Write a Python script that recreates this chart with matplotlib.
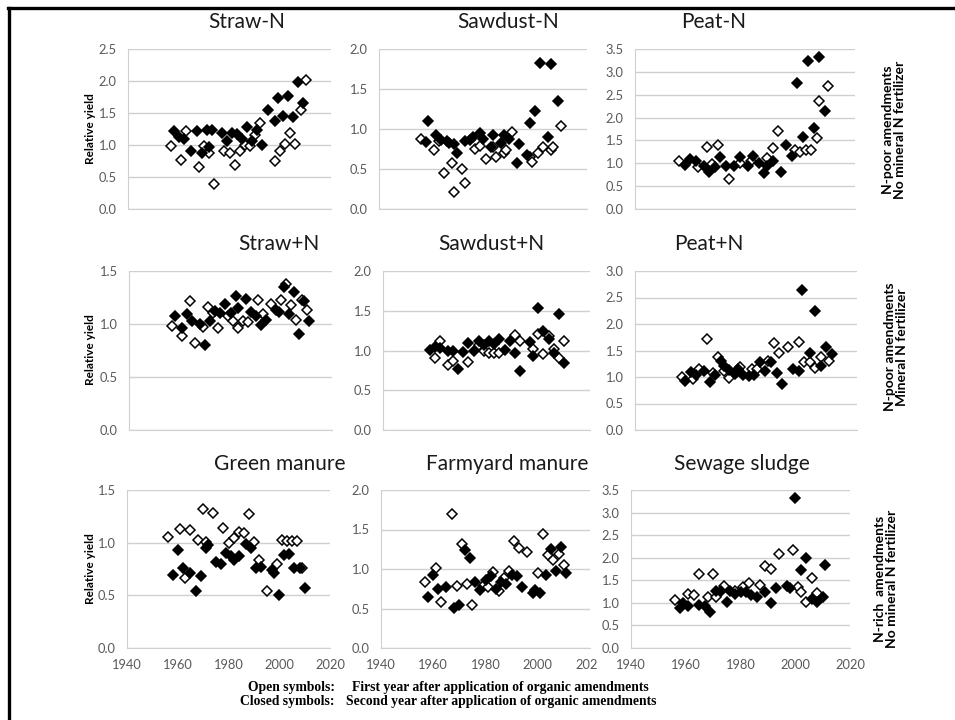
import matplotlib
matplotlib.use("Agg")
import matplotlib.pyplot as plt
import numpy as np
from matplotlib.lines import Line2D
from matplotlib.transforms import Bbox, TransformedBbox

# open = first year after application, closed = second year
straw_n_open_yr = [1957, 1961, 1963, 1968, 1970, 1972, 1974, 1978, 1980, 1982, 1984, 1986, 1988, 1990, 1992, 1998, 2000, 2002, 2004, 2006, 2008, 2010]
straw_n_open_ry = [0.99, 0.76, 1.22, 0.65, 0.99, 0.88, 0.39, 0.91, 0.88, 0.69, 0.90, 1.00, 0.99, 1.16, 1.34, 0.75, 0.91, 1.01, 1.18, 1.01, 1.54, 2.01]
straw_n_closed_yr = [1958, 1960, 1962, 1965, 1967, 1969, 1971, 1972, 1973, 1977, 1979, 1981, 1983, 1985, 1987, 1989, 1991, 1993, 1995, 1998, 1999, 2001, 2003, 2005, 2007, 2009]
straw_n_closed_ry = [1.22, 1.12, 1.10, 0.90, 1.22, 0.88, 1.23, 0.97, 1.23, 1.19, 1.07, 1.19, 1.17, 1.10, 1.28, 1.07, 1.24, 1.00, 1.55, 1.37, 1.73, 1.45, 1.77, 1.43, 1.99, 1.66]

sawdust_n_open_yr = [1956, 1961, 1963, 1965, 1968, 1969, 1972, 1973, 1977, 1979, 1981, 1984, 1985, 1988, 1989, 1991, 1998, 1999, 2001, 2003, 2006, 2007, 2010]
sawdust_n_open_ry = [0.88, 0.74, 0.85, 0.45, 0.58, 0.21, 0.50, 0.32, 0.75, 0.79, 0.62, 0.77, 0.65, 0.70, 0.74, 0.96, 0.65, 0.59, 0.70, 0.78, 0.74, 0.77, 1.04]
sawdust_n_closed_yr = [1958, 1959, 1962, 1964, 1966, 1967, 1969, 1970, 1973, 1975, 1976, 1979, 1980, 1983, 1984, 1987, 1988, 1990, 1993, 1994, 1997, 1998, 2000, 2002, 2005, 2006, 2009]
sawdust_n_closed_ry = [0.84, 1.10, 0.92, 0.86, 0.85, 0.83, 0.81, 0.70, 0.85, 0.86, 0.90, 0.95, 0.87, 0.78, 0.92, 0.83, 0.92, 0.88, 0.58, 0.81, 0.67, 1.08, 1.23, 1.83, 0.90, 1.81, 1.35]

peat_n_open_yr = [1956, 1963, 1966, 1968, 1970, 1974, 1978, 1982, 1988, 1990, 1992, 1998, 2000, 2002, 2004, 2006, 2007, 2010]
peat_n_open_ry = [1.06, 0.91, 1.35, 0.98, 1.41, 0.66, 1.01, 1.04, 1.12, 1.33, 1.71, 1.29, 1.24, 1.29, 1.29, 1.55, 2.36, 2.68]
peat_n_closed_yr = [1958, 1960, 1962, 1965, 1967, 1969, 1971, 1973, 1976, 1978, 1981, 1983, 1985, 1987, 1988, 1990, 1993, 1995, 1997, 1999, 2001, 2003, 2005, 2007, 2009]
peat_n_closed_ry = [0.97, 1.09, 1.06, 0.95, 0.82, 0.91, 1.13, 0.95, 0.95, 1.13, 0.95, 1.15, 1.00, 0.78, 0.93, 1.06, 0.80, 1.41, 1.17, 2.76, 1.58, 3.23, 1.77, 3.32, 2.14]

straw_p_open_yr = [1957, 1961, 1964, 1966, 1969, 1971, 1973, 1975, 1979, 1981, 1983, 1985, 1987, 1991, 1993, 1996, 2000, 2002, 2004, 2006, 2008, 2010]
straw_p_open_ry = [0.98, 0.89, 1.22, 0.82, 0.97, 1.16, 1.10, 0.96, 1.08, 1.03, 0.96, 1.03, 1.02, 1.23, 1.09, 1.19, 1.23, 1.38, 1.18, 1.04, 1.23, 1.13]
straw_p_closed_yr = [1958, 1961, 1963, 1965, 1968, 1970, 1972, 1974, 1976, 1978, 1980, 1982, 1983, 1986, 1988, 1990, 1992, 1994, 1998, 1999, 2001, 2003, 2005, 2007, 2009, 2011]
straw_p_closed_ry = [1.08, 0.96, 1.09, 1.03, 1.00, 0.80, 1.03, 1.12, 1.10, 1.19, 1.10, 1.26, 1.15, 1.24, 1.11, 1.08, 0.99, 1.04, 1.13, 1.11, 1.35, 1.09, 1.30, 0.91, 1.22, 1.03]

sawdust_p_open_yr = [1960, 1962, 1965, 1967, 1973, 1977, 1979, 1981, 1983, 1985, 1991, 1993, 1998, 2000, 2002, 2004, 2006, 2008, 2010]
sawdust_p_open_ry = [0.91, 1.12, 0.82, 0.87, 0.85, 1.07, 1.00, 0.97, 0.97, 0.97, 1.20, 1.12, 1.02, 1.21, 0.95, 1.18, 1.02, 0.91, 1.12]
sawdust_p_closed_yr = [1958, 1960, 1962, 1965, 1967, 1969, 1971, 1973, 1975, 1977, 1979, 1981, 1983, 1985, 1987, 1989, 1991, 1993, 1997, 1998, 2000, 2002, 2004, 2006, 2008, 2010]
sawdust_p_closed_ry = [1.01, 1.04, 1.03, 1.00, 1.00, 0.77, 0.98, 1.09, 1.00, 1.12, 1.07, 1.12, 1.08, 1.15, 1.01, 1.12, 0.97, 0.74, 1.11, 0.93, 1.53, 1.24, 1.15, 0.97, 1.46, 0.84]

peat_p_open_yr = [1957, 1961, 1963, 1966, 1968, 1970, 1972, 1974, 1978, 1982, 1984, 1988, 1990, 1992, 1995, 1999, 2001, 2003, 2005, 2007, 2010]
peat_p_open_ry = [1.00, 0.97, 1.16, 1.71, 1.07, 1.37, 1.11, 0.99, 1.18, 1.16, 1.16, 1.31, 1.64, 1.45, 1.56, 1.66, 1.28, 1.28, 1.17, 1.37, 1.31]
peat_p_closed_yr = [1958, 1960, 1962, 1965, 1967, 1969, 1971, 1972, 1974, 1976, 1977, 1979, 1981, 1983, 1985, 1987, 1989, 1991, 1993, 1997, 1999, 2000, 2003, 2005, 2007, 2009, 2011]
peat_p_closed_ry = [0.93, 1.09, 1.04, 1.11, 0.90, 1.04, 1.30, 1.20, 1.14, 1.05, 1.15, 1.04, 1.01, 1.04, 1.28, 1.11, 1.28, 1.07, 0.87, 1.16, 1.12, 2.65, 1.45, 2.24, 1.21, 1.56, 1.43]

green_open_yr = [1956, 1961, 1963, 1965, 1968, 1970, 1971, 1974, 1978, 1980, 1982, 1984, 1986, 1988, 1990, 1992, 1995, 1999, 2001, 2003, 2005, 2007, 2009]
green_open_ry = [1.05, 1.13, 0.66, 1.12, 1.03, 1.32, 1.01, 1.28, 1.14, 1.00, 1.04, 1.10, 1.09, 1.27, 1.01, 0.84, 0.54, 0.80, 1.03, 1.02, 1.02, 1.02, 0.76]
green_closed_yr = [1958, 1960, 1962, 1965, 1967, 1969, 1971, 1972, 1975, 1977, 1979, 1981, 1982, 1984, 1987, 1989, 1991, 1993, 1997, 1998, 2000, 2002, 2004, 2006, 2008, 2010]
green_closed_ry = [0.69, 0.93, 0.76, 0.71, 0.54, 0.68, 0.95, 0.98, 0.82, 0.80, 0.90, 0.87, 0.84, 0.87, 0.99, 0.95, 0.76, 0.77, 0.74, 0.71, 0.50, 0.88, 0.89, 0.76, 0.76, 0.57]

farm_open_yr = [1957, 1961, 1963, 1967, 1969, 1971, 1973, 1975, 1979, 1981, 1983, 1985, 1987, 1989, 1991, 1993, 1996, 2000, 2002, 2004, 2006, 2008, 2010]
farm_open_ry = [0.84, 1.01, 0.58, 1.70, 0.79, 1.32, 0.81, 0.55, 0.79, 0.77, 0.96, 0.72, 0.88, 0.97, 1.35, 1.26, 1.21, 0.95, 1.44, 1.18, 1.11, 1.19, 1.05]
farm_closed_yr = [1958, 1960, 1962, 1965, 1968, 1970, 1972, 1974, 1976, 1978, 1980, 1982, 1984, 1986, 1988, 1990, 1992, 1994, 1998, 1999, 2001, 2003, 2005, 2007, 2009, 2011]
farm_closed_ry = [0.64, 0.93, 0.75, 0.77, 0.51, 0.55, 1.24, 1.14, 0.84, 0.73, 0.86, 0.91, 0.75, 0.84, 0.81, 0.93, 0.91, 0.77, 0.69, 0.74, 0.70, 0.93, 1.25, 0.98, 1.28, 0.95]

sewage_open_yr = [1956, 1961, 1963, 1965, 1968, 1970, 1971, 1974, 1978, 1981, 1983, 1987, 1989, 1991, 1994, 1999, 2001, 2002, 2004, 2006, 2008]
sewage_open_ry = [1.07, 1.20, 1.18, 1.64, 1.14, 1.64, 1.12, 1.38, 1.27, 1.36, 1.45, 1.39, 1.82, 1.75, 2.09, 2.17, 1.36, 1.25, 1.02, 1.55, 1.22]
sewage_closed_yr = [1958, 1959, 1961, 1965, 1967, 1969, 1971, 1973, 1975, 1976, 1978, 1980, 1982, 1984, 1986, 1989, 1991, 1993, 1997, 1998, 2000, 2002, 2004, 2006, 2008, 2010, 2011]
sewage_closed_ry = [0.88, 1.00, 0.94, 0.96, 0.94, 0.79, 1.27, 1.27, 1.03, 1.27, 1.19, 1.23, 1.25, 1.18, 1.14, 1.25, 0.99, 1.33, 1.38, 1.33, 3.32, 1.73, 1.99, 1.08, 1.03, 1.14, 1.83]

year_ticks = [1940, 1960, 1980, 2000, 2020]

plt.rcParams['font.family'] = ['Lato', 'DejaVu Sans']

W, H = 955, 720
fig = plt.figure(figsize=(W / 100, H / 100), dpi=100)


def box(l, t, r, b):
    return [l / W, 1 - b / H, (r - l) / W, (b - t) / H]


def panel(pos, ox, oy, cx, cy, ymax, title, tpos, bottom=False):
    ax = fig.add_axes(box(*pos))
    ax.plot(ox, oy, ls='none', marker='D', ms=5.2, mfc='white', mec='black', mew=1.1)
    ax.plot(cx, cy, ls='none', marker='D', ms=5.2, mfc='black', mec='black', mew=1.1)
    ax.set_xlim(1940, 2020)
    ax.set_ylim(0, ymax)
    ticks = np.arange(0, ymax + 0.01, 0.5)
    ax.set_yticks(ticks)
    ax.set_yticklabels(['%.1f' % t for t in ticks])
    if bottom:
        ax.set_xticks(year_ticks)
        ax.set_xticklabels([str(y) for y in year_ticks])
    else:
        ax.set_xticks([])
    ax.tick_params(length=0, labelsize=9.3, colors='#595959', pad=8)
    ax.yaxis.grid(True, color='#d0d0d0', lw=1)
    ax.set_axisbelow(True)
    for s in ['top', 'right']:
        ax.spines[s].set_visible(False)
    for s in ['left', 'bottom']:
        ax.spines[s].set_color('#d0d0d0')
    ax.patch.set_alpha(0)
    fig.text(tpos[0] / W, 1 - tpos[1] / H, title, ha='center', va='baseline',
             fontsize=15, color='#1a1a1a')
    return ax


panel((128, 49, 331, 209), straw_n_open_yr, straw_n_open_ry, straw_n_closed_yr, straw_n_closed_ry, 2.5, 'Straw-N', (247, 28))
panel((379, 49, 587, 209), sawdust_n_open_yr, sawdust_n_open_ry, sawdust_n_closed_yr, sawdust_n_closed_ry, 2.0, 'Sawdust-N', (508, 28))
panel((635, 49, 855, 209), peat_n_open_yr, peat_n_open_ry, peat_n_closed_yr, peat_n_closed_ry, 3.5, 'Peat-N', (714, 28))

panel((129, 271, 332, 430), straw_p_open_yr, straw_p_open_ry, straw_p_closed_yr, straw_p_closed_ry, 1.5, 'Straw+N', (279, 250))
panel((383, 271, 590, 430), sawdust_p_open_yr, sawdust_p_open_ry, sawdust_p_closed_yr, sawdust_p_closed_ry, 2.0, 'Sawdust+N', (491, 250))
panel((635, 271, 857, 430), peat_p_open_yr, peat_p_open_ry, peat_p_closed_yr, peat_p_closed_ry, 3.0, 'Peat+N', (709, 250))

panel((127, 490, 330, 648), green_open_yr, green_open_ry, green_closed_yr, green_closed_ry, 1.5, 'Green manure', (280, 470), True)
ax_farm = panel((381, 490, 590, 648), farm_open_yr, farm_open_ry, farm_closed_yr, farm_closed_ry, 2.0, 'Farmyard manure', (507, 470), True)
panel((631, 490, 850, 648), sewage_open_yr, sewage_open_ry, sewage_closed_yr, sewage_closed_ry, 3.5, 'Sewage sludge', (742, 470), True)

# the last year label of the middle chart is cut off in the original
clip = TransformedBbox(Bbox([[0, 0], [597 / W, 1]]), fig.transFigure)
lbl = ax_farm.get_xticklabels()[-1]
lbl.set_clip_box(clip)
lbl.set_clip_on(True)

for yc in [129, 350, 569]:
    fig.text(90 / W, 1 - yc / H, 'Relative yield', rotation=90, ha='center', va='center',
             fontsize=8.5, weight='bold')

side = [(894, 130, 'N-poor amendments\nNo mineral N fertilizer'),
        (896, 347, 'N-poor amendments\nMineral N fertilizer'),
        (886, 579, 'N-rich  amendments\nNo mineral N fertilizer')]
for x, y, s in side:
    fig.text(x / W, 1 - y / H, s, rotation=90, ha='center', va='center',
             fontsize=10, weight='bold', multialignment='center', linespacing=1.05)

serif = dict(family='Liberation Serif', weight='bold', fontsize=9.8, va='center')
fig.text(335 / W, 1 - 687 / H, 'Open symbols:', ha='right', **serif)
fig.text(352 / W, 1 - 687 / H, 'First year after application of organic amendments', ha='left', **serif)
fig.text(335 / W, 1 - 702 / H, 'Closed symbols:', ha='right', **serif)
fig.text(346 / W, 1 - 702 / H, 'Second year after application of organic amendments', ha='left', **serif)

# black frame on the left and top
fig.add_artist(Line2D([9 / W, 9 / W], [0, 1 - 8 / H], transform=fig.transFigure, color='black', lw=2.4))
fig.add_artist(Line2D([8 / W, 1], [1 - 8 / H, 1 - 8 / H], transform=fig.transFigure, color='black', lw=2.4))

fig.savefig('out.png', dpi=100)
